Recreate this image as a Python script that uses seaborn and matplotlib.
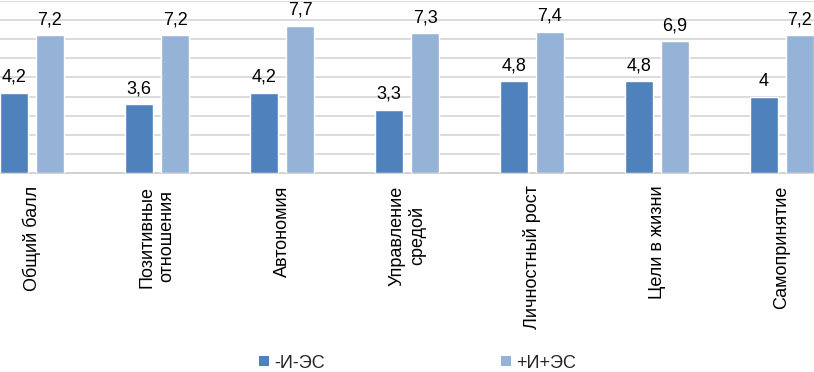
import matplotlib
matplotlib.use("Agg")
import matplotlib.pyplot as plt
from matplotlib.lines import Line2D
import seaborn as sns
import pandas as pd

categories = ["Общий балл", "Позитивные\nотношения", "Автономия", "Управление\nсредой",
              "Личностный рост", "Цели в жизни", "Самопринятие"]
series_names = ["-И-ЭС", "+И+ЭС"]
values_minus = [4.2, 3.6, 4.2, 3.3, 4.8, 4.8, 4.0]
values_plus = [7.2, 7.2, 7.7, 7.3, 7.4, 6.9, 7.2]
colors = ["#4F81BD", "#95B3D7"]

df = pd.DataFrame({
    "cat": categories * 2,
    "group": [series_names[0]] * len(categories) + [series_names[1]] * len(categories),
    "value": values_minus + values_plus,
})

sns.set_theme(style="white")
plt.rcParams["font.family"] = ["Liberation Sans", "DejaVu Sans"]

FS = 13

fig = plt.figure(figsize=(8.14, 3.72), dpi=100)
ax = fig.add_axes([-30.5 / 814, 199 / 372, 875 / 814, 172 / 372])

sns.barplot(data=df, x="cat", y="value", hue="group", order=categories,
            hue_order=series_names, palette=colors, width=0.576, gap=0.222,
            saturation=1, errorbar=None, ax=ax, zorder=3, legend=False)

ax.set_ylim(0, 9)
ax.set_xlim(-0.5, len(categories) - 0.5)
ax.set_yticks(range(0, 10))
ax.yaxis.grid(True, color="#D9D9D9", linewidth=1.3, zorder=0)
ax.set_axisbelow(True)
ax.set_yticklabels([])
ax.tick_params(axis="y", length=0)
ax.tick_params(axis="x", length=0, pad=9, labelsize=FS, labelcolor="black")
for lab in ax.get_xticklabels():
    lab.set_rotation(90)
    lab.set_ha("center")
    lab.set_va("top")
    lab.set_multialignment("center")
ax.set_xlabel("")
ax.set_ylabel("")
for s in ["top", "left", "right"]:
    ax.spines[s].set_visible(False)
ax.spines["bottom"].set_color("#D0D0D0")
ax.spines["bottom"].set_linewidth(1.3)

for cont in ax.containers:
    ax.bar_label(cont, labels=[f"{v:g}".replace(".", ",") for v in cont.datavalues],
                 padding=5, fontsize=FS, color="black")

handles = [Line2D([], [], linestyle="none", marker="s", markersize=6.5,
                  markerfacecolor=c, markeredgecolor=c, markeredgewidth=0)
           for c in colors]
fig.legend(handles, series_names, loc="center", bbox_to_anchor=(0.513, 9 / 372),
           ncol=2, frameon=False, fontsize=FS, handlelength=0.5,
           handletextpad=0.3, columnspacing=9.8)

fig.savefig("out.png", dpi=100)
